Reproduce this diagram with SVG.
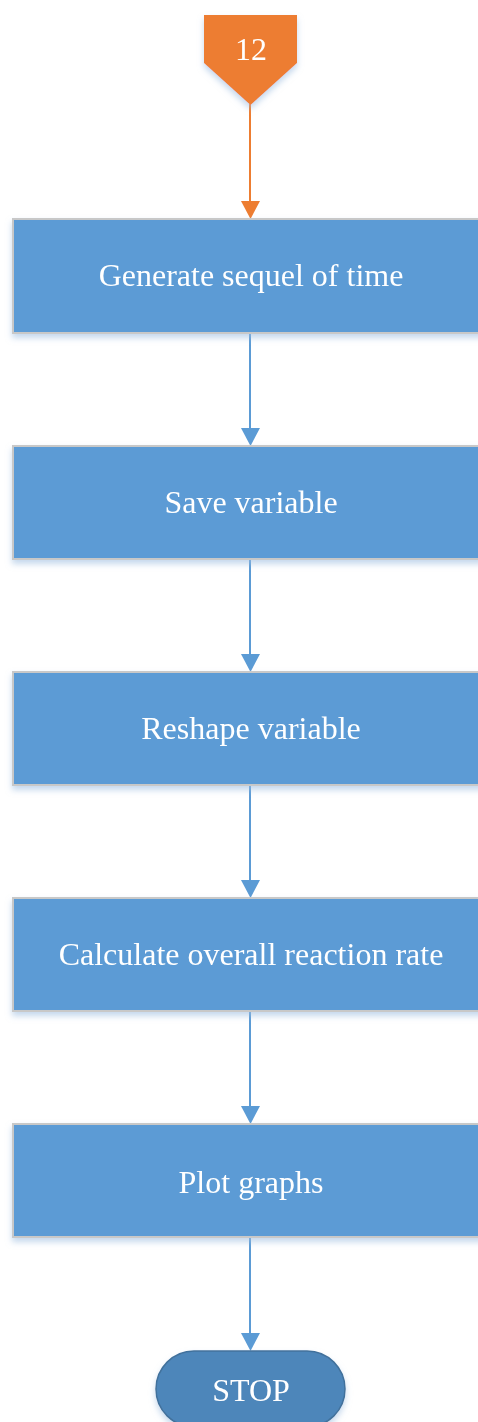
<svg xmlns="http://www.w3.org/2000/svg" width="478" height="1422" viewBox="0 0 478 1422">
  <style>
    .box { fill: #5b9bd5; stroke: #c8c8c8; stroke-width: 2; }
    .lbl { font-family: "Liberation Serif", "Times New Roman", serif; font-size: 32px; fill: #ffffff; text-anchor: middle; }
    .link { stroke: #5b9bd5; stroke-width: 2; fill: none; }
  </style>
  <defs>
    <filter id="shadow" x="-10%" y="-10%" width="120%" height="130%">
      <feGaussianBlur in="SourceAlpha" stdDeviation="3"/>
      <feOffset dx="0" dy="4" result="b"/>
      <feFlood flood-color="#9dbde0" flood-opacity="0.6"/>
      <feComposite in2="b" operator="in"/>
      <feMerge><feMergeNode/><feMergeNode in="SourceGraphic"/></feMerge>
    </filter>
  </defs>
  <rect width="478" height="1422" fill="#ffffff"/>

  <!-- connectors -->
  <g id="connectors">
    <line x1="250" y1="104" x2="250" y2="202" stroke="#ed7d31" stroke-width="2"/>
    <polygon points="241,201 260,201 250.5,219" fill="#ed7d31"/>
    <line class="link" x1="250" y1="334" x2="250" y2="429"/>
    <polygon points="241,428 260,428 250.5,446" fill="#5b9bd5"/>
    <line class="link" x1="250" y1="560" x2="250" y2="655"/>
    <polygon points="241,654 260,654 250.5,672" fill="#5b9bd5"/>
    <line class="link" x1="250" y1="786" x2="250" y2="881"/>
    <polygon points="241,880 260,880 250.5,898" fill="#5b9bd5"/>
    <line class="link" x1="250" y1="1012" x2="250" y2="1107"/>
    <polygon points="241,1106 260,1106 250.5,1124" fill="#5b9bd5"/>
    <line class="link" x1="250" y1="1238" x2="250" y2="1334"/>
    <polygon points="241,1333 260,1333 250.5,1351" fill="#5b9bd5"/>
  </g>

  <g id="start" filter="url(#shadow)">
    <polygon points="204,15 297,15 297,63 250.5,105 204,63" fill="#ed7d31"/>
    <text class="lbl" x="251" y="60">12</text>
  </g>

  <g id="generate" filter="url(#shadow)">
    <rect class="box" x="13" y="219" width="470" height="114"/>
    <text class="lbl" x="251" y="286">Generate sequel of time</text>
  </g>

  <g id="save" filter="url(#shadow)">
    <rect class="box" x="13" y="446" width="470" height="113"/>
    <text class="lbl" x="251" y="513">Save variable</text>
  </g>

  <g id="reshape" filter="url(#shadow)">
    <rect class="box" x="13" y="672" width="470" height="113"/>
    <text class="lbl" x="251" y="739">Reshape variable</text>
  </g>

  <g id="calculate" filter="url(#shadow)">
    <rect class="box" x="13" y="898" width="470" height="113"/>
    <text class="lbl" x="251" y="965">Calculate overall reaction rate</text>
  </g>

  <g id="plot" filter="url(#shadow)">
    <rect class="box" x="13" y="1124" width="470" height="113"/>
    <text class="lbl" x="251" y="1193">Plot graphs</text>
  </g>

  <g id="stop" filter="url(#shadow)">
    <rect x="156" y="1351" width="189" height="76" rx="38" ry="38" fill="#4e86ba" stroke="#41719c" stroke-width="1.5"/>
    <text class="lbl" x="251" y="1401">STOP</text>
  </g>
</svg>
